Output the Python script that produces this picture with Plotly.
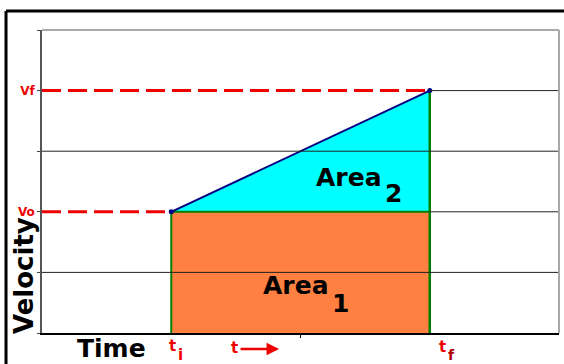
import plotly.graph_objects as go

# kinematics diagram values (time / velocity units of the sketch)
t_i, t_f = 1, 3
v_o, v_f = 2, 4
t_max, v_max = 4, 5
v_ticks = [0, 1, 2, 3, 4, 5]
v_tick_text = ["", "", "<b>Vo</b>", "", "<b>Vf</b>", ""]
full_grid = [1, 3]
short_grid = [v_o, v_f]

RED = "#ee0000"
FONT = "DejaVu Sans"

fig = go.Figure()

# Area 1: rectangle under v_o
fig.add_trace(go.Scatter(x=[t_i, t_f, t_f, t_i, t_i], y=[0, 0, v_o, v_o, 0],
                         fill="toself", fillcolor="#ff8040", mode="none",
                         hoverinfo="skip"))
# Area 2: triangle between v_o and the velocity line
fig.add_trace(go.Scatter(x=[t_i, t_f, t_f, t_i], y=[v_o, v_f, v_o, v_o],
                         fill="toself", fillcolor="#00ffff", mode="none",
                         hoverinfo="skip"))

# dashed guides to the velocity axis
fig.add_trace(go.Scatter(x=[0, t_i], y=[v_o, v_o], mode="lines",
                         line=dict(color=RED, width=3, dash="19px,7px")))
fig.add_trace(go.Scatter(x=[0, t_f], y=[v_f, v_f], mode="lines",
                         line=dict(color=RED, width=3, dash="19px,7px")))

# green outline of the areas
fig.add_trace(go.Scatter(x=[t_i, t_i, t_f], y=[0, v_o, v_o], mode="lines",
                         line=dict(color="#008000", width=2)))
fig.add_trace(go.Scatter(x=[t_f, t_f], y=[0, v_f], mode="lines",
                         line=dict(color="#008000", width=2.5)))

# velocity line
fig.add_trace(go.Scatter(x=[t_i, t_f], y=[v_o, v_f], mode="lines+markers",
                         line=dict(color="#000080", width=2),
                         marker=dict(color="#000080", size=5)))

shapes = []
for g in full_grid:
    shapes.append(dict(type="line", xref="x", yref="y", x0=0, x1=t_max, y0=g, y1=g,
                       line=dict(color="#222222", width=1), layer="above"))
for g in short_grid:
    shapes.append(dict(type="line", xref="x", yref="y", x0=t_f, x1=t_max, y0=g, y1=g,
                       line=dict(color="#222222", width=1), layer="above"))
# light grey border on top / right of plot area
shapes.append(dict(type="line", xref="paper", yref="paper", x0=0, x1=1, y0=1, y1=1,
                   line=dict(color="#a8a8a8", width=2)))
shapes.append(dict(type="line", xref="paper", yref="paper", x0=1, x1=1, y0=0, y1=1,
                   line=dict(color="#a8a8a8", width=2)))
# black outer frame (top and left visible)
shapes.append(dict(type="line", xref="paper", yref="paper", x0=-0.0696, x1=1.2,
                   y0=1.0627, y1=1.0627, line=dict(color="black", width=3)))
shapes.append(dict(type="line", xref="paper", yref="paper", x0=-0.0696, x1=-0.0696,
                   y0=1.0627, y1=-0.2, line=dict(color="black", width=3)))

big = dict(family=FONT, size=25, color="black", weight="bold")
red_t = dict(family=FONT, size=15, color=RED, weight="bold")
red_sub = dict(family=FONT, size=15, color=RED, weight="bold")
c = dict(xanchor="center", yanchor="middle", showarrow=False)
annotations = [
    dict(text="Area", x=2.375, y=2.56, xref="x", yref="y", font=big, **c),
    dict(text="2", x=2.72, y=2.31, xref="x", yref="y", font=big, **c),
    dict(text="Area", x=1.965, y=0.776, xref="x", yref="y", font=big, **c),
    dict(text="1", x=2.31, y=0.479, xref="x", yref="y", font=big, **c),
    dict(text="Velocity", x=-0.0348, y=0.188, xref="paper", yref="paper", textangle=-90,
         font=dict(family=FONT, size=26, color="black", weight="bold"), **c),
    dict(text="Time", x=0.1335, y=-0.052, xref="paper", yref="paper",
         font=dict(family=FONT, size=25, color="black", weight="bold"), **c),
    # t_i
    dict(text="t", x=t_i + 0.006, y=-0.043, xref="x", yref="paper", font=red_t, **c),
    dict(text="i", x=t_i + 0.075, y=-0.071, xref="x", yref="paper", font=red_sub, **c),
    # t_f
    dict(text="t", x=t_f + 0.095, y=-0.046, xref="x", yref="paper", font=red_t, **c),
    dict(text="f", x=t_f + 0.172, y=-0.072, xref="x", yref="paper",
         font=dict(family=FONT, size=14, color="#b00000", weight="bold"), **c),
    # t with arrow
    dict(text="t", x=1.486, y=-0.0495, xref="x", yref="paper", font=red_t, **c),
    dict(text="", x=1.834, y=-0.0528, xref="x", yref="paper", ax=-40, ay=0,
         showarrow=True, arrowhead=2, arrowsize=1, arrowwidth=2.5, arrowcolor=RED),
]

fig.update_layout(
    width=564, height=364,
    margin=dict(l=42, r=5, t=30, b=31),
    paper_bgcolor="white", plot_bgcolor="white",
    showlegend=False,
    shapes=shapes, annotations=annotations,
    xaxis=dict(range=[0, t_max], showgrid=False, zeroline=False,
               showline=True, linecolor="black", linewidth=2,
               tickvals=[2], ticktext=[""], ticks="outside", ticklen=3,
               tickcolor="black", layer="above traces"),
    yaxis=dict(range=[0, v_max], showgrid=False, zeroline=False,
               showline=True, linecolor="#555555", linewidth=1.5,
               tickvals=v_ticks, ticktext=v_tick_text, ticks="outside", ticklen=3,
               tickcolor="#444444",
               tickfont=dict(family=FONT, size=12, color=RED)),
)

# drop the default page margin so the figure sits at the window's corner
fig.write_html("out.html", config={"displayModeBar": False},
               post_script="document.body.style.margin='0';")
